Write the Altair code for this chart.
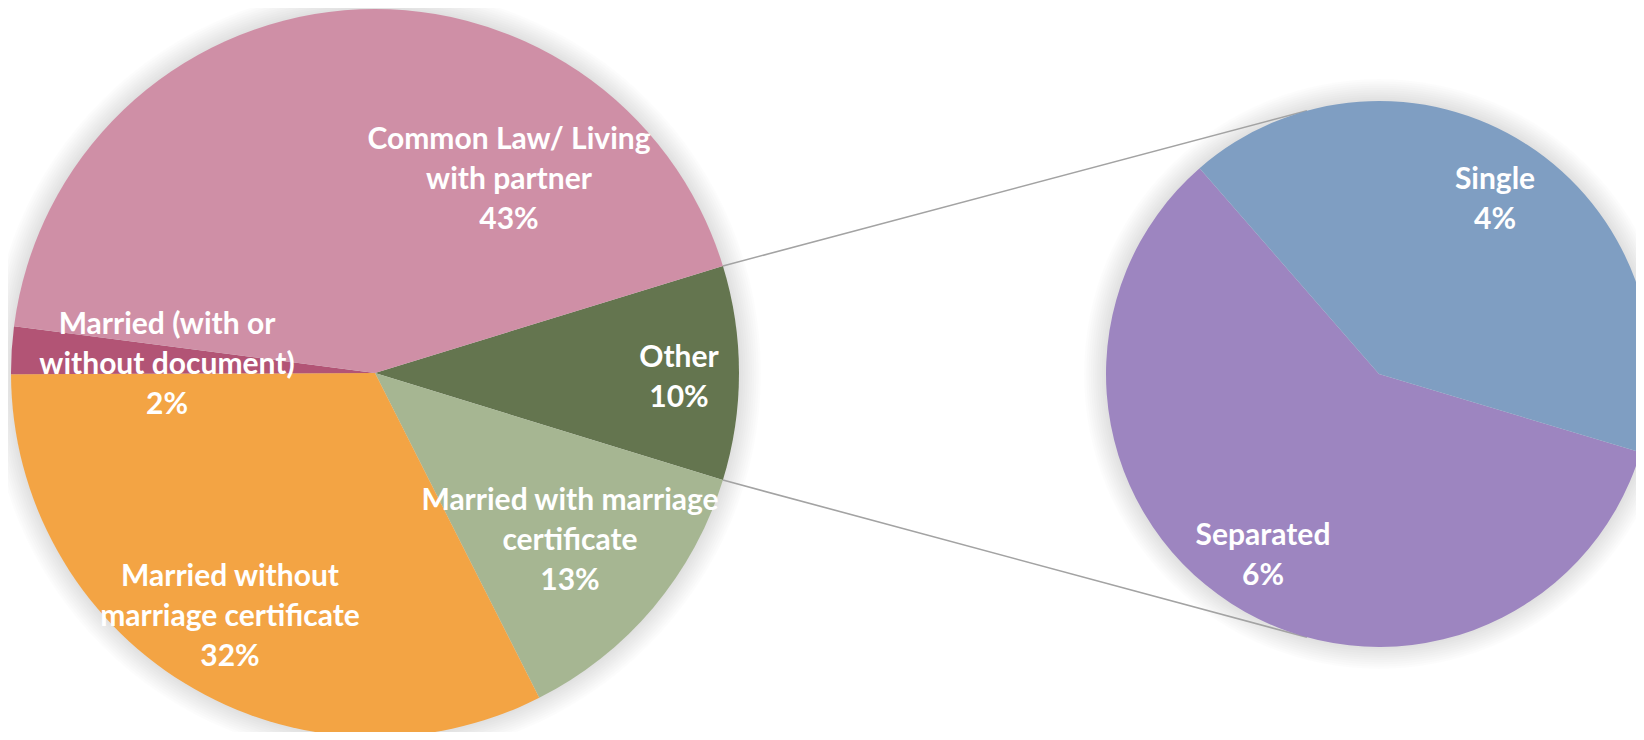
import math
import altair as alt
import pandas as pd

# ---------------- data ----------------
main_cats = ["Other", "Married with marriage certificate", "Married without marriage certificate",
             "Married (with or without document)", "Common Law/ Living with partner"]
main_vals = [9.5, 12.8, 32.4, 2.1, 43.2]
main_label_lines = ["Other", "Married with marriage\ncertificate", "Married without\nmarriage certificate",
                    "Married (with or\nwithout document)", "Common Law/ Living\nwith partner"]
sub_cats = ["Separated", "Single"]
sub_vals = [5.6, 3.9]
sub_label_lines = ["Separated", "Single"]

# ---------------- styles / layout ----------------
main_colors = ["#64754F", "#A6B692", "#F3A444", "#B25475", "#CF8FA6"]
sub_colors = ["#9D85C0", "#7F9EC2"]
W, H = 1628, 724
MCX, MCY, MR = 367, 365, 364        # main pie centre / radius (px)
SCX, SCY, SR = 1371, 366, 273       # secondary pie centre / radius (px)
SUB_START_DEG = 106.7               # where the secondary pie's first slice starts
CONNECT_DEG = 15.3                  # connector end angle on the secondary pie
LINE_H = 40
main_label_pos = [(671, 370), (562, 533), (222, 609), (159, 357), (501, 172)]
sub_label_pos = [(1255, 548), (1487, 192)]
FONT = "Lato"
FONT_SIZE = 30


def pct(v):
    return f"{int(v + 0.5)}%"


def build(cats, vals, lines, pos):
    df = pd.DataFrame({"cat": cats, "v": vals})
    df["end"] = df["v"].cumsum()
    df["start"] = df["end"] - df["v"]
    df["label"] = [l + "\n" + pct(v) for l, v in zip(lines, vals)]
    nl = [l.count("\n") + 2 for l in lines]
    df["lx"] = [p[0] for p in pos]
    # first line's y so that the whole block is centred on the anchor
    df["ly"] = [p[1] - (n - 1) * LINE_H / 2 for p, n in zip(pos, nl)]
    return df


main_total = sum(main_vals)
other_share = main_vals[0]
main_start = math.radians(90 - other_share / main_total * 180)
main_df = build(main_cats, main_vals, main_label_lines, main_label_pos)

sub_total = sum(sub_vals)
sub_df = build(sub_cats, sub_vals, sub_label_lines, sub_label_pos)

color_scale = alt.Scale(domain=main_cats + sub_cats, range=main_colors + sub_colors)

# soft shadow: a few faint discs slightly larger than each pie
one = pd.DataFrame({"k": [0]})
shadow_layers = []
for cx, cy, r in [(MCX, MCY, MR), (SCX, SCY, SR)]:
    for k in range(1, 11):
        shadow_layers.append(
            alt.Chart(one).mark_arc(color="#000000", opacity=0.011).encode(
                x=alt.value(cx), y=alt.value(cy), radius=alt.value(r + k * 2.2),
                theta=alt.value(0), theta2=alt.value(2 * math.pi)))

# connector lines from the Other slice edges to the secondary pie
a1 = main_start
a2 = main_start + other_share / main_total * 2 * math.pi
b1 = math.radians(360 - CONNECT_DEG)
b2 = math.radians(180 + CONNECT_DEG)
conn_df = pd.DataFrame({
    "x": [MCX + MR * math.sin(a1), MCX + MR * math.sin(a2)],
    "y": [MCY - MR * math.cos(a1), MCY - MR * math.cos(a2)],
    "x2": [SCX + SR * math.sin(b1), SCX + SR * math.sin(b2)],
    "y2": [SCY - SR * math.cos(b1), SCY - SR * math.cos(b2)],
})
connectors = alt.Chart(conn_df).mark_rule(color="#A3A3A3", strokeWidth=1.6).encode(
    x=alt.X("x:Q", scale=None), y=alt.Y("y:Q", scale=None),
    x2="x2:Q", y2="y2:Q")

main_pie = alt.Chart(main_df).mark_arc().encode(
    theta=alt.Theta("start:Q", scale=alt.Scale(domain=[0, main_total],
                                               range=[main_start, main_start + 2 * math.pi])),
    theta2="end:Q",
    color=alt.Color("cat:N", scale=color_scale, legend=None),
    x=alt.value(MCX), y=alt.value(MCY), radius=alt.value(MR))

sub_start = math.radians(SUB_START_DEG)
sub_pie = alt.Chart(sub_df).mark_arc().encode(
    theta=alt.Theta("start:Q", scale=alt.Scale(domain=[0, sub_total],
                                               range=[sub_start, sub_start + 2 * math.pi])),
    theta2="end:Q",
    color=alt.Color("cat:N", scale=color_scale, legend=None),
    x=alt.value(SCX), y=alt.value(SCY), radius=alt.value(SR))

text_props = dict(color="white", font=FONT, fontSize=FONT_SIZE, fontWeight="bold",
                  lineBreak="\n", lineHeight=LINE_H, align="center", baseline="middle")
main_text = alt.Chart(main_df).mark_text(**text_props).encode(
    x=alt.X("lx:Q", scale=None), y=alt.Y("ly:Q", scale=None), text="label:N")
sub_text = alt.Chart(sub_df).mark_text(**text_props).encode(
    x=alt.X("lx:Q", scale=None), y=alt.Y("ly:Q", scale=None), text="label:N")

chart = alt.layer(*shadow_layers, connectors, main_pie, sub_pie, main_text, sub_text).resolve_scale(
    theta="independent"
).properties(
    width=W, height=H, padding=0, autosize=alt.AutoSizeParams(type="none"), background="white"
).configure_view(stroke=None).configure_axis(disable=True)

chart.save("out.html", embed_options={"renderer": "svg", "actions": False})
